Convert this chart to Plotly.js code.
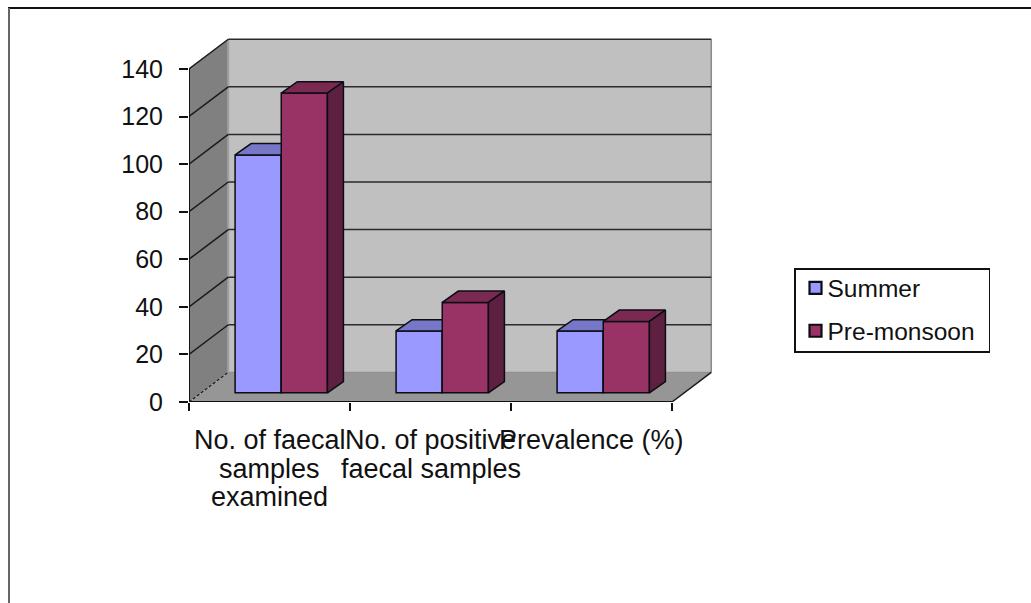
<!DOCTYPE html>
<html>
<head>
<meta charset="utf-8">
<script src="https://cdn.plot.ly/plotly-3.0.1.min.js"></script>
<style>html,body{margin:0;padding:0;background:#fff;overflow:hidden}</style>
</head>
<body>
<div id="chart" style="width:1031px;height:603px"></div>
<script>
// Sample counts and prevalence by season
const categories = [["No. of faecal", "samples", "examined"], ["No. of positive", "faecal samples"], ["Prevalence (%)"]];
const seriesNames = ["Summer", "Pre-monsoon"];
const summer = [100, 26, 26];
const preMonsoon = [126, 38, 30];
const yTicks = [0, 20, 40, 60, 80, 100, 120, 140];

// Pseudo-3D projection, in axis units
const wallDX = 0.244, wallDY = 12.48;   // shift from the front plane to the back wall
const barDX = 0.0758, barDY = 3.87;     // shift from the front plane to the bar fronts
const depthDX = 0.0994, depthDY = 4.75; // bar depth
const barW = 0.2867, barGap = 0.2105;
const yTop = 140;

const W = 1031, H = 603, mL = 189, mR = 282, mT = 21, mB = 201;
const xMax = 560 / 161, yMax = 381 / 2.379;
const pxX = p => (p - mL) / (W - mL - mR);
const pxY = p => (H - mB - p) / (H - mT - mB);

const colors = [
  {front: "#9999FF", top: "#7777C8", side: "#5C5C99"},
  {front: "#993366", top: "#7A2950", side: "#5E2040"}
];
const edge = "#0c0c14";

function face(xs, ys, fill, xa, ya) {
  return {
    type: "scatter", mode: "lines", x: [...xs, xs[0]], y: [...ys, ys[0]],
    fill: "toself", fillcolor: fill, line: {color: edge, width: 1.5},
    xaxis: xa, yaxis: ya, showlegend: false, hoverinfo: "skip"
  };
}

function seriesTraces(values, s, xa, ya) {
  const left = i => i + barDX + barGap + s * barW;
  const bar = {
    type: "bar", name: seriesNames[s],
    x: values.map((v, i) => left(i) + barW / 2),
    y: values, base: values.map(() => barDY), width: barW,
    marker: {color: colors[s].front, line: {color: edge, width: 1.5}},
    xaxis: xa, yaxis: ya, hoverinfo: "y+name", legendgroup: seriesNames[s]
  };
  const faces = [];
  values.forEach((v, i) => {
    const x0 = left(i), x1 = x0 + barW, y0 = barDY, y1 = barDY + v;
    faces.push(face([x0, x1, x1 + depthDX, x0 + depthDX], [y1, y1, y1 + depthDY, y1 + depthDY], colors[s].top, xa, ya));
    faces.push(face([x1, x1 + depthDX, x1 + depthDX, x1], [y0, y0 + depthDY, y1 + depthDY, y1], colors[s].side, xa, ya));
  });
  return [bar, ...faces];
}

const traces = [
  ...seriesTraces(summer, 0, "x", "y"),
  ...seriesTraces(preMonsoon, 1, "x2", "y2")
];

function poly(pts, fill) {
  return {
    type: "path", xref: "x", yref: "y", layer: "below", fillcolor: fill, line: {width: 0},
    path: "M" + pts.map(p => p.join(",")).join("L") + "Z"
  };
}
function seg(x0, y0, x1, y1, color, width, dash) {
  return {type: "line", xref: "x", yref: "y", layer: "below", x0, y0, x1, y1,
          line: {color, width, dash: dash || "solid"}};
}
function frame(x0, y0, x1, y1, color) {
  return {type: "line", xref: "paper", yref: "paper", x0: pxX(x0), y0: pxY(y0), x1: pxX(x1), y1: pxY(y1),
          line: {color, width: 2}};
}

const shapes = [
  poly([[wallDX, wallDY], [3 + wallDX, wallDY], [3 + wallDX, yTop + wallDY], [wallDX, yTop + wallDY]], "#C0C0C0"),
  poly([[0, 0], [wallDX, wallDY], [wallDX, yTop + wallDY], [0, yTop]], "#808080"),
  poly([[0, 0], [3, 0], [3 + wallDX, wallDY], [wallDX, wallDY]], "#969696"),
  seg(wallDX, wallDY, wallDX, yTop + wallDY, "#a2a2a2", 2),
  seg(3 + wallDX, wallDY, 3 + wallDX, yTop + wallDY, "#8a8a8a", 1.5),
  seg(wallDX, wallDY, 3 + wallDX, wallDY, "#8a8a8a", 1),
  seg(3, 0, 3 + wallDX, wallDY, "#1a1a1a", 1.5),
  seg(0, 0, wallDX, wallDY, "#1a1a1a", 1.2, "3px,2px"),
  frame(8, 8, W, 8, "#111111"),
  frame(9, 8, 9, H, "#666666")
];
yTicks.filter(t => t > 0).forEach(t => {
  shapes.push(seg(0, t, wallDX, t + wallDY, "#1a1a1a", 1.5));
  shapes.push(seg(wallDX, t + wallDY, 3 + wallDX, t + wallDY, "#2a2a2a", 1.5));
});
shapes.push(seg(0, 0, 3, 0, "#111111", 2));
shapes.push(seg(0, 0, 0, yTop, "#111111", 2));

const fontFamily = "Liberation Sans, Arial, sans-serif";

// Category labels are set line by line to hold a tight 28.5px leading
const annotations = [];
categories.forEach((lines, i) => lines.forEach((line, k) => {
  annotations.push({
    xref: "x", yref: "y", x: i + 0.5, y: 0, yshift: -(38 + 28.5 * k),
    xanchor: "center", yanchor: "middle", showarrow: false, text: line,
    font: {family: fontFamily, size: 27, color: "#111"}
  });
}));

const layout = {
  width: W, height: H,
  margin: {l: mL, r: mR, t: mT, b: mB, pad: 0},
  paper_bgcolor: "#fff", plot_bgcolor: "rgba(0,0,0,0)",
  showlegend: true, barmode: "overlay", shapes, annotations,
  xaxis: {
    range: [0, xMax], showgrid: false, zeroline: false, showline: false, fixedrange: true,
    tickmode: "array", tickvals: [0, 1, 2, 3], ticks: "outside", ticklen: 8, tickwidth: 2, tickcolor: "#111",
    showticklabels: false
  },
  yaxis: {
    range: [0, yMax], showgrid: false, zeroline: false, showline: false, fixedrange: true,
    tickmode: "array", tickvals: yTicks, ticktext: yTicks.map(String),
    ticks: "outside", ticklen: 9, tickwidth: 2, tickcolor: "#111",
    ticklabelstandoff: 11, tickfont: {family: fontFamily, size: 25, color: "#111"}
  },
  xaxis2: {range: [0, xMax], overlaying: "x", visible: false, fixedrange: true},
  yaxis2: {range: [0, yMax], overlaying: "y", visible: false, fixedrange: true},
  legend: {
    x: pxX(794), y: pxY(268), xanchor: "left", yanchor: "top",
    bgcolor: "#fff", bordercolor: "#111", borderwidth: 1.5,
    font: {family: fontFamily, size: 24.5, color: "#111"},
    traceorder: "normal",
    entrywidthmode: "pixels", entrywidth: 152
  }
};

Plotly.newPlot("chart", traces, layout, {displayModeBar: false, staticPlot: true}).then(() => {
  // Tighten the gap between legend swatches and their labels, and thicken the swatch outline
  document.querySelectorAll("#chart .legendtext").forEach(t => {
    t.setAttribute("x", Number(t.getAttribute("x")) - 8);
  });
  document.querySelectorAll("#chart .legendpoints path").forEach(p => {
    p.style.strokeWidth = "2.2px";
  });
  // Open up the spacing between the two legend rows and fit the box around them
  const rowShift = [-4, 4];
  document.querySelectorAll("#chart .legend .traces").forEach((row, i) => {
    const m = /translate\(([-\d.]+)[ ,]+([-\d.]+)\)/.exec(row.getAttribute("transform"));
    if (m) row.setAttribute("transform", `translate(${m[1]},${Number(m[2]) + rowShift[i]})`);
  });
  const box = document.querySelector("#chart .legend rect.bg");
  box.setAttribute("height", 83);
});
</script>
</body>
</html>
